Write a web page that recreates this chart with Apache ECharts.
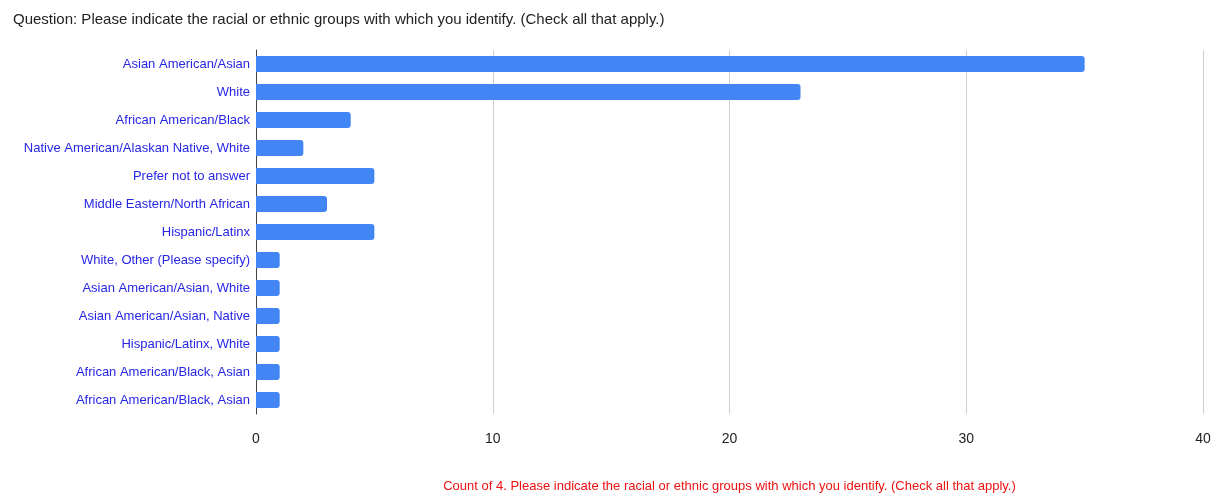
<!DOCTYPE html>
<html>
<head>
<meta charset="utf-8">
<style>
  html, body { margin: 0; padding: 0; background: #fff; }
  #chart { width: 1221px; height: 497px; }
</style>
<script src="https://cdn.jsdelivr.net/npm/echarts@6/dist/echarts.min.js"></script>
</head>
<body>
<div id="chart"></div>
<script>
const titleText = 'Question: Please indicate the racial or ethnic groups with which you identify. (Check all that apply.)';
const axisName = 'Count of 4. Please indicate the racial or ethnic groups with which you identify. (Check all that apply.)';
const categories = [
  'Asian American/Asian',
  'White',
  'African American/Black',
  'Native American/Alaskan Native, White',
  'Prefer not to answer',
  'Middle Eastern/North African',
  'Hispanic/Latinx',
  'White, Other (Please specify)',
  'Asian American/Asian, White',
  'Asian American/Asian, Native',
  'Hispanic/Latinx, White',
  'African American/Black, Asian',
  'African American/Black, Asian'
];
const counts = [35, 23, 4, 2, 5, 3, 5, 1, 1, 1, 1, 1, 1];
const xTicks = { min: 0, max: 40, interval: 10 };

const FONT = '"Liberation Sans", Arial, sans-serif';
const chart = echarts.init(document.getElementById('chart'));
chart.setOption({
  animation: false,
  title: {
    text: titleText,
    left: 8, top: 7,
    textStyle: { fontFamily: FONT, fontSize: 15, fontWeight: 'normal', color: '#222' }
  },
  grid: { left: 256, right: 18, top: 50, bottom: 83, outerBoundsMode: 'none' },
  xAxis: {
    type: 'value',
    min: xTicks.min, max: xTicks.max, interval: xTicks.interval,
    axisLine: { show: false },
    axisTick: { show: false },
    splitLine: { lineStyle: { color: '#d0d0d0', width: 1 } },
    axisLabel: { fontFamily: FONT, fontSize: 14, color: '#222', margin: 18 },
    name: axisName,
    nameLocation: 'middle',
    nameGap: 66,
    nameTextStyle: { fontFamily: FONT, fontSize: 13, color: '#ee1111' }
  },
  yAxis: {
    type: 'category',
    data: categories,
    inverse: true,
    axisLine: { show: true, lineStyle: { color: '#444', width: 1 } },
    axisTick: { show: false },
    axisLabel: { fontFamily: FONT, fontSize: 13, color: '#2626e6', margin: 6 }
  },
  series: [{
    type: 'bar',
    data: counts,
    barWidth: 16,
    itemStyle: { color: '#4285f4', borderRadius: [0, 3, 3, 0] }
  }]
});
</script>
</body>
</html>
